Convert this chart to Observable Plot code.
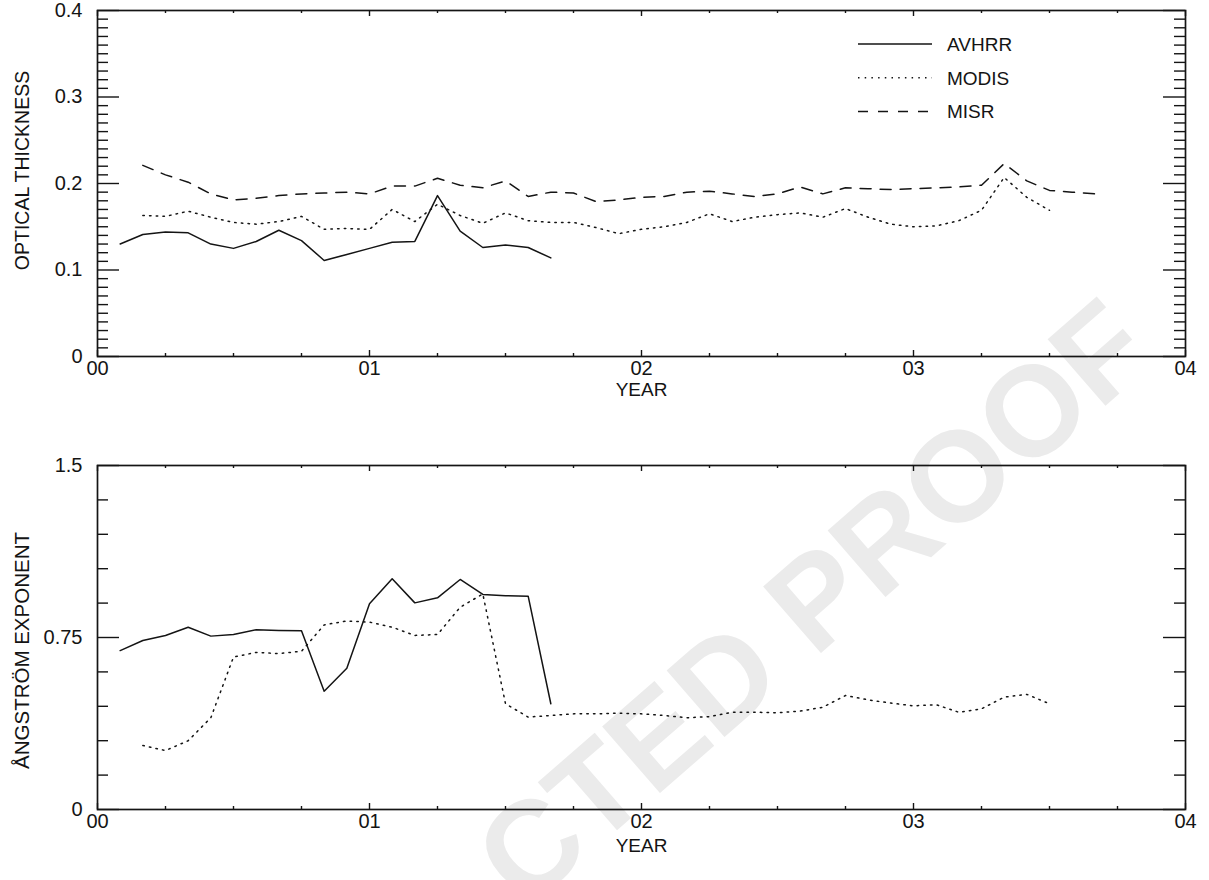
<!DOCTYPE html>
<html><head><meta charset="utf-8">
<script src="https://cdn.jsdelivr.net/npm/d3@7"></script>
<script src="https://cdn.jsdelivr.net/npm/@observablehq/plot@0.6"></script>
<style>
html,body{margin:0;padding:0;background:#fff;}
#page{position:relative;width:1209px;height:880px;overflow:hidden;}
#wm{position:absolute;left:0;top:0;z-index:0;}
#charts{position:absolute;left:0;top:0;z-index:1;}
#charts svg{display:block;}
</style></head><body>
<div id="page"><svg id="wm" width="1209" height="880"></svg><div id="charts"></div></div>
<script>
// ---------------- DATA ----------------
const seriesNames = ["AVHRR", "MODIS", "MISR"];
const xTitle = "YEAR";
const xMajorTicks = [0, 1, 2, 3, 4];
const xTickLabels = ["00", "01", "02", "03", "04"];
const xMinorTicks = [0.25, 0.5, 0.75, 1.25, 1.5, 1.75, 2.25, 2.5, 2.75, 3.25, 3.5, 3.75];

// months since Jan 2000
const monthsAVHRR = [1,2,3,4,5,6,7,8,9,10,11,12,13,14,15,16,17,18,19,20];
const monthsMODIS = [2,3,4,5,6,7,8,9,10,11,12,13,14,15,16,17,18,19,20,21,22,23,24,25,26,27,28,29,30,31,32,33,34,35,36,37,38,39,40,41,42];
const monthsMISR  = [2,3,4,5,6,7,8,9,10,11,12,13,14,15,16,17,18,19,20,21,22,23,24,25,26,27,28,29,30,31,32,33,34,35,36,37,38,39,40,41,42,43,44];

// top panel: optical thickness
const tauTitle = "OPTICAL THICKNESS";
const tauMajorTicks = [0, 0.1, 0.2, 0.3, 0.4];
const tauTickLabels = ["0", "0.1", "0.2", "0.3", "0.4"];
const tauAVHRR = [0.130,0.141,0.144,0.143,0.130,0.125,0.133,0.146,0.134,0.111,0.118,0.125,0.132,0.133,0.186,0.145,0.126,0.129,0.126,0.114];
const tauMODIS = [0.163,0.162,0.168,0.161,0.155,0.153,0.156,0.162,0.147,0.148,0.147,0.170,0.156,0.176,0.163,0.154,0.166,0.157,0.155,0.155,0.149,0.142,0.147,0.150,0.155,0.165,0.156,0.161,0.164,0.166,0.161,0.171,0.161,0.153,0.150,0.151,0.157,0.169,0.207,0.184,0.169];
const tauMISR  = [0.221,0.210,0.2015,0.188,0.181,0.183,0.186,0.188,0.189,0.190,0.188,0.197,0.197,0.206,0.198,0.195,0.203,0.185,0.190,0.189,0.179,0.181,0.184,0.185,0.190,0.191,0.188,0.185,0.188,0.196,0.188,0.195,0.194,0.193,0.194,0.195,0.196,0.198,0.223,0.203,0.192,0.190,0.188];

// bottom panel: Angstrom exponent
const alphaTitle = "ÅNGSTRÖM EXPONENT";
const alphaMajorTicks = [0, 0.75, 1.5];
const alphaTickLabels = ["0", "0.75", "1.5"];
const alphaAVHRR = [0.693,0.737,0.759,0.795,0.756,0.763,0.784,0.781,0.779,0.516,0.616,0.897,1.006,0.901,0.923,1.003,0.938,0.932,0.930,0.461];
const alphaMODIS = [0.279,0.257,0.300,0.400,0.665,0.685,0.680,0.690,0.805,0.822,0.817,0.795,0.759,0.763,0.882,0.940,0.461,0.403,0.410,0.417,0.417,0.420,0.417,0.410,0.400,0.405,0.424,0.424,0.422,0.429,0.446,0.497,0.478,0.464,0.452,0.457,0.424,0.439,0.490,0.502,0.461];

const watermarkText = "CTED PROOF";

// ---------------- STYLE / LAYOUT ----------------
const FONT = "'Liberation Sans', Arial, Helvetica, sans-serif";
const INK = "#141414";
const FS = 20;
const W = 1209, ML = 97, MR = 24;
const innerW = W - ML - MR;
const dashes = {AVHRR: null, MODIS: "1.5,5.2", MISR: "11,9"};
const LW = 1.5;

const toTable = (months, values) => months.map((m, i) => ({year: m / 12, value: values[i]}));

function makePanel(cfg) {
  const innerH = cfg.height - cfg.marginTop - cfg.marginBottom;
  const lineMarks = cfg.series.map(s => Plot.line(toTable(s.months, s.values), {
    x: "year", y: "value", stroke: INK, strokeWidth: LW,
    strokeDasharray: dashes[s.name] || undefined
  }));
  const tk = {stroke: INK, strokeWidth: 1.4};
  return Plot.plot({
    width: W, height: cfg.height,
    marginLeft: ML, marginRight: MR, marginTop: cfg.marginTop, marginBottom: cfg.marginBottom,
    style: {background: "transparent", fontFamily: FONT, color: INK, overflow: "visible"},
    x: {domain: [0, 4]},
    y: {domain: cfg.yDomain},
    marks: [
      Plot.tickX(xMinorTicks, {x: d => d, insetTop: innerH - 3, ...tk}),
      Plot.tickX(xMinorTicks, {x: d => d, insetBottom: innerH - 3, ...tk}),
      Plot.tickX(xMajorTicks, {x: d => d, insetTop: innerH - 6, ...tk}),
      Plot.tickX(xMajorTicks, {x: d => d, insetBottom: innerH - 6, ...tk}),
      Plot.tickY(cfg.yMinor, {y: d => d, insetRight: innerW - 11, ...tk}),
      Plot.tickY(cfg.yMinor, {y: d => d, insetLeft: innerW - 11, ...tk}),
      Plot.tickY(cfg.yMajor, {y: d => d, insetRight: innerW - 22, ...tk}),
      Plot.tickY(cfg.yMajor, {y: d => d, insetLeft: innerW - 22, ...tk}),
      Plot.frame({stroke: INK, strokeWidth: 1.7}),
      Plot.axisX({ticks: xMajorTicks, tickSize: 0, tickPadding: 4, fontSize: FS, label: null,
        tickFormat: d => xTickLabels[xMajorTicks.indexOf(d)]}),
      Plot.axisY({ticks: cfg.yMajor, tickSize: 0, tickPadding: 15, fontSize: FS, label: null,
        tickFormat: d => cfg.yLabels[cfg.yMajor.indexOf(d)]}),
      Plot.text([xTitle], {frameAnchor: "bottom", dy: cfg.xTitleDy, fontSize: FS - 1, fill: INK,
        textAnchor: "middle", lineAnchor: "middle"}),
      Plot.text([cfg.title], {frameAnchor: "left", dx: -75, dy: cfg.titleDy, rotate: -90, fontSize: cfg.titleSize, fill: INK,
        textAnchor: "middle", lineAnchor: "middle"}),
      ...lineMarks
    ]
  });
}

const tauMinor = d3.range(0, 41).map(i => i / 100).filter(v => !tauMajorTicks.some(t => Math.abs(t - v) < 1e-9));
const alphaMinor = d3.range(0, 11).map(i => i * 0.15).filter(v => !alphaMajorTicks.some(t => Math.abs(t - v) < 1e-9));

const topPlot = makePanel({
  height: 400, marginTop: 10, marginBottom: 44,
  yDomain: [0, 0.4], yMajor: tauMajorTicks, yLabels: tauTickLabels, yMinor: tauMinor,
  title: tauTitle, titleDy: -13, titleSize: 19.5, xTitleDy: 33,
  series: [
    {name: "AVHRR", months: monthsAVHRR, values: tauAVHRR},
    {name: "MODIS", months: monthsMODIS, values: tauMODIS},
    {name: "MISR", months: monthsMISR, values: tauMISR}
  ]
});
const bottomPlot = makePanel({
  height: 480, marginTop: 65, marginBottom: 71,
  yDomain: [0, 1.5], yMajor: alphaMajorTicks, yLabels: alphaTickLabels, yMinor: alphaMinor,
  title: alphaTitle, titleDy: 13, titleSize: 20.5, xTitleDy: 36,
  series: [
    {name: "AVHRR", months: monthsAVHRR, values: alphaAVHRR},
    {name: "MODIS", months: monthsMODIS, values: alphaMODIS}
  ]
});

document.getElementById("charts").append(topPlot, bottomPlot);

// legend (top panel)
const lg = d3.select(topPlot).append("g")
  .attr("font-family", FONT).attr("font-size", FS - 1).attr("fill", INK).attr("text-anchor", "start");
seriesNames.forEach((name, i) => {
  const y = 44 + i * 33.8;
  lg.append("line").attr("x1", 858).attr("x2", 932).attr("y1", y).attr("y2", y)
    .attr("stroke", INK).attr("stroke-width", LW)
    .attr("stroke-dasharray", name === "MISR" ? "10,10" : (dashes[name] || null));
  lg.append("text").attr("x", 947).attr("y", y).attr("dy", "0.36em").attr("text-anchor", "start").text(name);
});

// watermark
d3.select("#wm").append("text")
  .attr("transform", "translate(1158,360) rotate(-41)")
  .attr("text-anchor", "end")
  .attr("font-family", FONT).attr("font-weight", "bold").attr("font-size", 128)
  .attr("fill", "#ebebeb")
  .text(watermarkText);
</script></body></html>
